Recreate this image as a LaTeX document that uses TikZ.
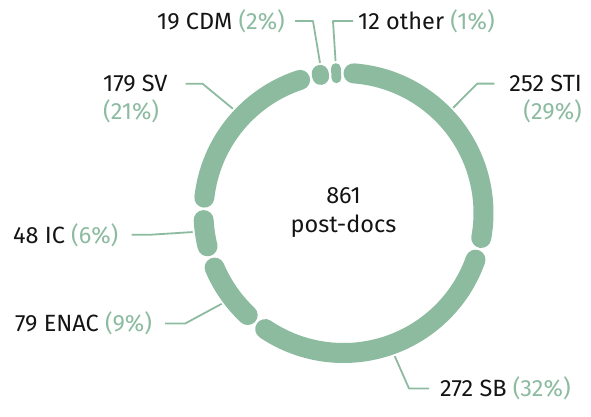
\documentclass[tikz,border=0pt]{standalone}
\usepackage{fontspec}
\setmainfont{Fira Sans}
\usetikzlibrary{positioning}
\definecolor{ringgreen}{RGB}{140,187,160}
\definecolor{labelblack}{RGB}{20,20,20}
\tikzset{
  seg/.style={draw=ringgreen, line width=20, line cap=round},
  leader/.style={draw=ringgreen, line width=1.8, line join=round},
  lbl/.style={inner sep=0, text=labelblack, font=\fontsize{23.5}{29}\selectfont},
}
\newcommand{\pct}[1]{\textcolor{ringgreen}{(#1\%)}}
\begin{document}
\begin{tikzpicture}[x=1pt, y=1pt]
            \useasboundingbox (0,0) rectangle (591,416);
            \coordinate (C) at (343.5,203);
            % ring segments: STI, SB, ENAC, IC, SV
            \foreach \a/\b in {85.9/-10.27, -19.47/-124.0, -133.2/-157.03, -166.23/-177.1, -186.3/-251.94}
            \draw[seg] (C) ++(\a:140) arc[start angle=\a, end angle=\b, radius=140];
            % CDM and other are too short for an arc
            \draw[seg, line width=16.9] (C) ++(99.49:138.45) -- ++(99.49:3.1);
            \draw[seg, line width=9.77] (C) ++(93.01:134.9) -- ++(93.01:10.2);
            \foreach \n/\g in {eSTI/43.8, eSB/-70.3, eENAC/216.7, eIC/187.2, eSV/136.7, eCDM/98.9, eOther/93}
            \path (C) ++(\g:152) coordinate (\n);
            % labels
            \node[lbl, align=center] (total) at (C) {861\\post-docs};
            \node[lbl, anchor=base east] (cdm) at (285,386.7) {19 CDM \pct{2}};
            \node[lbl, anchor=base west] (oth) at (358,386.7) {12 other \pct{1}};
            \node[lbl, anchor=base west] (sv) at (103,324.3) {179 SV};
            \node[lbl, anchor=base west, text=ringgreen] (svp) at ([yshift=-28]sv.base west) {(21\%)};
            \node[lbl, anchor=base east] (sti) at (582,324.3) {252 STI};
            \node[lbl, anchor=base east, text=ringgreen] (stip) at ([yshift=-28]sti.base east) {(29\%)};
            \node[lbl, anchor=base west] (ic) at (13,173) {48 IC \pct{6}};
            \node[lbl, anchor=base west] (enac) at (15,84.3) {79 ENAC \pct{9}};
            \node[lbl, anchor=base west] (sb) at (440,19.3) {272 SB \pct{32}};
            % leaders
            \draw[leader] ([xshift=10]cdm.east) -- ++(18,0) -- (eCDM);
            \draw[leader] ([xshift=-5]oth.west) -- ++(-20,0) -- (eOther);
            \draw[leader] ([xshift=18]sv.east) -- ++(17,0) -- (eSV);
            \draw[leader] ([xshift=-15]sti.west) -- ++(-17,0) -- (eSTI);
            \draw[leader] ([xshift=13]ic.east) -- ++(18,0) -- (eIC);
            \draw[leader] ([xshift=13]enac.east) -- ++(20,0) -- (eENAC);
            \draw[leader] ([xshift=-11]sb.west) -- ++(-20,0) -- (eSB);
        \end{tikzpicture}
\end{document}
